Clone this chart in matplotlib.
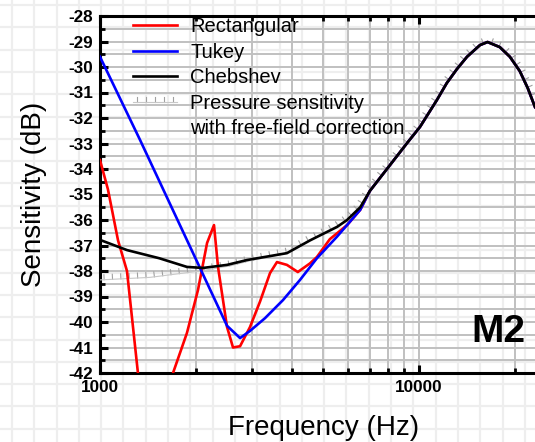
import matplotlib.pyplot as plt
import matplotlib.patheffects as pe
from matplotlib.ticker import FixedLocator, NullFormatter, MultipleLocator
import numpy as np

plt.rcParams['font.family'] = ['Liberation Sans', 'DejaVu Sans']
plt.rcParams['axes.unicode_minus'] = False

# shared high-frequency part (all windows converge here)
tail_f = [7014, 7933, 9180, 10070, 11372, 12220, 13150, 14140, 15531, 16400,
          17916, 19270, 20694, 21910, 23100]
tail_db = [-34.86, -34.0, -32.98, -32.35, -31.3, -30.63, -30.08, -29.6, -29.14,
           -29.02, -29.22, -29.6, -30.16, -30.82, -31.57]

rect_f = [1000, 1059, 1139, 1215, 1315, 1434, 1564, 1694, 1873, 2028, 2166, 2277,
          2344, 2502, 2612, 2748, 2952, 3174, 3412, 3587, 3854, 4170, 4553, 4786,
          5255, 5950, 6543]
rect_db = [-33.65, -34.8, -36.8, -38.0, -42.0, -45.0, -45.0, -42.0, -40.43, -38.75,
           -36.9, -36.2, -37.84, -40.2, -41.0, -40.95, -40.2, -39.2, -38.08, -37.65,
           -37.76, -38.04, -37.7, -37.45, -36.75, -36.2, -35.6]

tukey_f = [1000, 1335, 2058, 2502, 2748, 2952, 3290, 3747, 4236, 4786, 5536, 6543]
tukey_db = [-29.6, -32.86, -37.88, -40.15, -40.63, -40.35, -39.85, -39.14, -38.35,
            -37.5, -36.65, -35.6]

cheb_f = [1000, 1215, 1534, 1873, 2103, 2502, 2890, 3854, 4553, 5536, 5950, 6543]
cheb_db = [-36.78, -37.18, -37.5, -37.84, -37.88, -37.76, -37.57, -37.3, -36.8,
           -36.27, -36.0, -35.5]

press_f = [1000, 1434, 2058, 2558, 2952, 3854, 4553, 5536, 5950, 6543]
press_db = [-38.35, -38.25, -38.0, -37.8, -37.6, -37.3, -36.8, -36.27, -36.0, -35.5]

fig = plt.figure(figsize=(5.35, 4.42), dpi=100)

# light square pattern behind everything
bg = fig.add_axes([0, 0, 1, 1], zorder=-5)
bg.set_xlim(0, 535)
bg.set_ylim(442, 0)
bg.axis('off')
for gx in np.arange(12, 535, 22.3):
    bg.axvline(gx, color='#eeeeee', lw=1.6)
for gy in np.arange(5, 442, 22.3):
    bg.axhline(gy, color='#eeeeee', lw=1.6)

ax = fig.add_axes([100 / 535, 1 - 373 / 442, 435 / 535, 357 / 442])
ax.set_facecolor('none')
ax.set_xscale('log')
ax.set_xlim(1000, 23100)
ax.set_ylim(-42, -28)

ax.plot(press_f + tail_f, press_db + tail_db, color='#c8c8c8', lw=0.8,
        path_effects=[pe.withTickedStroke(spacing=6, length=0.6, angle=90,
                                          linewidth=0.8, foreground='#a0a0a0')],
        label='Pressure sensitivity', zorder=3)
ax.plot(rect_f + tail_f, rect_db + tail_db, color='#ff0000', lw=1.9,
        label='Rectangular', zorder=4)
ax.plot(tukey_f + tail_f, tukey_db + tail_db, color='#0000ff', lw=1.9,
        label='Tukey', zorder=5)
ax.plot(cheb_f + tail_f, cheb_db + tail_db, color='black', lw=1.9,
        label='Chebshev', zorder=6)

# grid and ticks
ax.xaxis.set_major_locator(FixedLocator([1000, 10000]))
ax.xaxis.set_minor_locator(FixedLocator([2000, 3000, 4000, 5000, 6000, 7000,
                                         8000, 9000, 20000]))
ax.xaxis.set_minor_formatter(NullFormatter())
ax.set_xticklabels(['1000', '10000'])
ax.yaxis.set_major_locator(MultipleLocator(1))
ax.yaxis.set_minor_locator(MultipleLocator(0.5))
ax.grid(True, which='both', color='#c0c0c0', lw=1.4, zorder=0)
ax.set_axisbelow(True)
ax.tick_params(which='major', direction='in', length=6, width=2.2,
               top=True, labelsize=12.3, pad=5)
ax.tick_params(which='minor', direction='in', length=3.5, width=2.0, top=True)
for lab in ax.get_xticklabels() + ax.get_yticklabels():
    lab.set_fontweight('bold')
for side in ['left', 'bottom', 'top']:
    ax.spines[side].set_linewidth(2.2)
ax.spines['right'].set_visible(False)

ax.set_xlabel('Frequency (Hz)', fontsize=20)
ax.xaxis.set_label_coords(0.515, -0.154, transform=ax.transAxes)
ax.xaxis.label.set_va('center')
ax.set_ylabel('Sensitivity (dB)', fontsize=20, labelpad=15)

handles, labels = ax.get_legend_handles_labels()
order = [1, 2, 3, 0]
leg = ax.legend([handles[i] for i in order], [labels[i] for i in order],
                loc='upper left', bbox_to_anchor=(133 / 535, 1 - 17 / 442),
                bbox_transform=fig.transFigure, frameon=False,
                fontsize=14.5, handlelength=2.2, handletextpad=0.65,
                labelspacing=0.33, borderpad=0, borderaxespad=0)
fig.text(190 / 535, 1 - 128 / 442, 'with free-field correction', fontsize=14.5,
         va='center', ha='left')

ax.text(0.977, 0.115, 'M2', transform=ax.transAxes, fontsize=28,
        fontweight='bold', ha='right', va='center', zorder=7)

fig.savefig('out.png', dpi=100)
